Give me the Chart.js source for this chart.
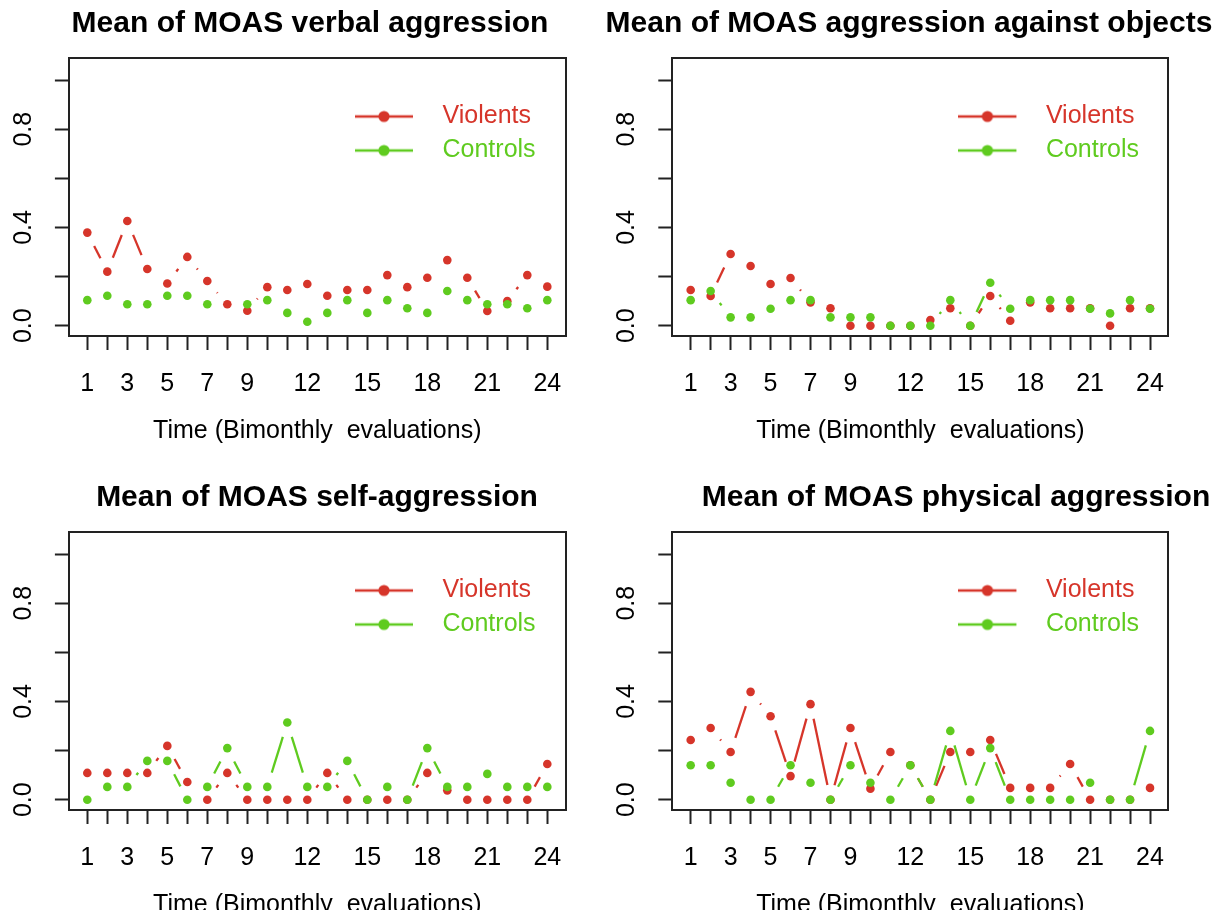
<!DOCTYPE html>
<html>
<head>
<meta charset="utf-8">
<script src="https://cdn.jsdelivr.net/npm/chart.js@4.4.0/dist/chart.umd.min.js"></script>
<style>
html,body{margin:0;padding:0;background:#fff;width:1231px;height:910px;overflow:hidden;position:relative;}
canvas{position:absolute;}
</style>
</head>
<body>
<canvas id="c0"></canvas>
<canvas id="c1"></canvas>
<canvas id="c2"></canvas>
<canvas id="c3"></canvas>
<script>
// ---------------- data ----------------
const timePoints = [1,2,3,4,5,6,7,8,9,10,11,12,13,14,15,16,17,18,19,20,21,22,23,24];
const xTickLabels = ['1','3','5','7','9','12','15','18','21','24'];
const yTickValues = [0, 0.2, 0.4, 0.6, 0.8, 1.0];
const yTickLabels = ['0.0', '', '0.4', '', '0.8', ''];
const seriesNames = ['Violents', 'Controls'];
const xAxisTitle = 'Time (Bimonthly  evaluations)';
const panelTitles = [
  'Mean of MOAS verbal aggression',
  'Mean of MOAS aggression against objects',
  'Mean of MOAS self-aggression',
  'Mean of MOAS physical aggression'
];

const verbalViolents = [0.379,0.220,0.426,0.231,0.172,0.280,0.182,0.087,0.061,0.157,0.145,0.170,0.122,0.145,0.145,0.206,0.157,0.195,0.267,0.195,0.060,0.100,0.206,0.159];
const verbalControls = [0.104,0.122,0.087,0.087,0.122,0.122,0.087,null,0.087,0.104,0.052,0.016,0.052,0.104,0.052,0.104,0.071,0.052,0.141,0.104,0.087,0.087,0.071,0.104];

const objectsViolents = [0.145,0.121,0.292,0.243,0.170,0.194,0.095,0.071,0.0,0.0,0.0,0.0,0.023,0.071,0.0,0.121,0.020,0.095,0.071,0.071,0.071,0.0,0.071,0.071];
const objectsControls = [0.104,0.141,0.034,0.034,0.069,0.104,0.104,0.034,0.034,0.034,0.0,0.0,0.0,0.104,0.0,0.175,0.069,0.104,0.104,0.104,0.069,0.050,0.104,0.069];

const selfViolents = [0.109,0.109,0.109,0.109,0.219,0.072,0.0,0.109,0.0,0.0,0.0,0.0,0.109,0.0,0.0,0.0,0.0,0.109,0.038,0.0,0.0,0.0,0.0,0.145];
const selfControls = [0.0,0.052,0.052,0.158,0.158,0.0,0.052,0.210,0.052,0.052,0.314,0.052,0.052,0.158,0.0,0.052,0.0,0.210,0.052,0.052,0.105,0.052,0.052,0.052];

const physicalViolents = [0.243,0.292,0.194,0.439,0.340,0.096,0.389,0.0,0.292,0.045,0.194,0.140,0.0,0.194,0.194,0.243,0.048,0.048,0.048,0.145,0.0,0.0,0.0,0.048];
const physicalControls = [0.140,0.140,0.069,0.0,0.0,0.140,0.069,0.0,0.140,0.069,0.0,0.140,0.0,0.280,0.0,0.210,0.0,0.0,0.0,0.0,0.069,0.0,0.0,0.280];

const panelSeries = [
  [verbalViolents, verbalControls],
  [objectsViolents, objectsControls],
  [selfViolents, selfControls],
  [physicalViolents, physicalControls]
];

// ---------------- style / layout ----------------
const RED = '#D6352A';
const GREEN = '#5FCB1F';
const seriesColors = [RED, GREEN];
const FONT = "'Liberation Sans', Arial, Helvetica, sans-serif";
const AXIS_COL = '#222';

// canvas placement + fixed margins so chart areas match the reference
const panels = [
  {left: 0,   top: 0,     w: 620, h: 455, yw: 68.9, rw: 54.3},
  {left: 603, top: 0,     w: 612, h: 455, yw: 69.3, rw: 46.6},
  {left: 0,   top: 473.9, w: 634, h: 455, yw: 68.9, rw: 68.3},
  {left: 610, top: 473.9, w: 692, h: 455, yw: 62.3, rw: 133.6}
];
const TITLE_H = 57.5, XAXIS_H = 119;

// legend glyph: solid line with a dot
function legendGlyph(color) {
  const c = document.createElement('canvas');
  c.width = 75; c.height = 14;
  const g = c.getContext('2d');
  g.strokeStyle = color; g.lineWidth = 2.6;
  g.beginPath(); g.moveTo(0, 7); g.lineTo(58, 7); g.stroke();
  g.fillStyle = color;
  g.beginPath(); g.arc(29, 7, 5.6, 0, Math.PI * 2); g.fill();
  return c;
}
const glyphs = seriesColors.map(legendGlyph);

// R type="b": line segments with gaps around points
const typeBLines = {
  id: 'typeBLines',
  beforeDatasetsDraw(chart) {
    const ctx = chart.ctx, xs = chart.scales.x, ys = chart.scales.y;
    const GAP = 15;
    ctx.save();
    ctx.lineWidth = 2.3;
    ctx.lineCap = 'butt';
    chart.data.datasets.forEach(ds => {
      ctx.strokeStyle = ds.borderColor;
      const pts = ds.data;
      for (let i = 0; i < pts.length - 1; i++) {
        const a = pts[i], b = pts[i + 1];
        if (a.y == null || b.y == null) continue;
        const x1 = xs.getPixelForValue(a.x), y1 = ys.getPixelForValue(a.y);
        const x2 = xs.getPixelForValue(b.x), y2 = ys.getPixelForValue(b.y);
        const d = Math.hypot(x2 - x1, y2 - y1);
        if (d <= 2 * GAP) continue;
        const ux = (x2 - x1) / d, uy = (y2 - y1) / d;
        ctx.beginPath();
        ctx.moveTo(x1 + ux * GAP, y1 + uy * GAP);
        ctx.lineTo(x2 - ux * GAP, y2 - uy * GAP);
        ctx.stroke();
      }
    });
    ctx.restore();
  }
};

// put the (library) legend inside the plot, top-right like R's legend()
const LEG_PAD = 9;
const legendPlacer = {
  id: 'legendPlacer',
  afterLayout(chart) {
    const lg = chart.legend, ca = chart.chartArea;
    if (!lg) return;
    lg.left = ca.left + 286.1 - LEG_PAD;
    lg.top = ca.top + 46.5 - LEG_PAD;
    lg.width = 300; lg.height = 120;
    lg.right = lg.left + lg.width;
    lg.bottom = lg.top + lg.height;
  }
};

function makeChart(idx) {
  const p = panels[idx];
  const cv = document.getElementById('c' + idx);
  cv.width = p.w; cv.height = p.h;
  cv.style.left = p.left + 'px'; cv.style.top = p.top + 'px';
  cv.style.width = p.w + 'px'; cv.style.height = p.h + 'px';

  const datasets = panelSeries[idx].map((vals, s) => ({
    label: seriesNames[s],
    data: timePoints.map((t, i) => ({x: t, y: vals[i]})),
    borderColor: seriesColors[s],
    backgroundColor: seriesColors[s],
    pointRadius: 4.3,
    pointBorderWidth: 0,
    pointHoverRadius: 4.3,
    showLine: false,
    order: s === 0 ? 2 : 1
  }));

  return new Chart(cv, {
    type: 'scatter',
    data: {datasets},
    plugins: [typeBLines, legendPlacer],
    options: {
      responsive: false,
      animation: false,
      devicePixelRatio: 1,
      layout: {padding: 0},
      plugins: {
        tooltip: {enabled: false},
        title: {
          display: true,
          text: panelTitles[idx],
          color: '#000',
          font: {family: FONT, size: 30, weight: 'bold', lineHeight: 1.2},
          padding: {top: 6, bottom: TITLE_H - 6 - 36}
        },
        legend: {
          display: true,
          position: 'chartArea',
          align: 'start',
          labels: {
            usePointStyle: true,
            pointStyleWidth: 75,
            boxHeight: 14,
            padding: LEG_PAD,
            font: {family: FONT, size: 25},
            generateLabels(chart) {
              return chart.data.datasets.map((ds, i) => ({
                text: ds.label,
                fontColor: ds.borderColor,
                fillStyle: ds.borderColor,
                strokeStyle: ds.borderColor,
                lineWidth: 0,
                pointStyle: glyphs[i],
                hidden: false,
                datasetIndex: i
              }));
            }
          }
        }
      },
      scales: {
        x: {
          type: 'linear',
          position: 'bottom',
          min: 0.08, max: 24.92,
          afterBuildTicks(s) { s.ticks = timePoints.map(v => ({value: v})); },
          afterFit(s) { s.height = XAXIS_H; },
          ticks: {
            autoSkip: false, maxRotation: 0, minRotation: 0,
            padding: 19,
            color: '#000',
            font: {family: FONT, size: 25},
            callback: v => xTickLabels.includes(String(v)) ? String(v) : ''
          },
          grid: {display: true, drawOnChartArea: false, drawTicks: true, tickLength: 14, tickWidth: 2, tickColor: AXIS_COL},
          border: {display: true, color: AXIS_COL, width: 2},
          title: {display: true, text: xAxisTitle, color: '#000', font: {family: FONT, size: 25, lineHeight: 1.2}, padding: {top: 0, bottom: 9}}
        },
        y: {
          type: 'linear',
          position: 'left',
          min: -0.042, max: 1.092,
          afterBuildTicks(s) { s.ticks = yTickValues.map(v => ({value: v})); },
          afterFit(s) { s.width = p.yw; },
          ticks: {
            autoSkip: false, minRotation: 90, maxRotation: 90,
            crossAlign: 'center',
            padding: 13.5,
            color: '#000',
            font: {family: FONT, size: 25},
            callback: (v, i) => yTickLabels[i]
          },
          grid: {display: true, drawOnChartArea: false, drawTicks: true, tickLength: 14, tickWidth: 2, tickColor: AXIS_COL},
          border: {display: true, color: AXIS_COL, width: 2}
        },
        x2: {
          type: 'linear', position: 'top', min: 0.08, max: 24.92,
          afterFit(s) { s.height = 0; },
          ticks: {display: false},
          grid: {display: false, drawTicks: false},
          border: {display: true, color: AXIS_COL, width: 2}
        },
        y2: {
          type: 'linear', position: 'right', min: -0.042, max: 1.092,
          afterFit(s) { s.width = p.rw; },
          ticks: {display: false},
          grid: {display: false, drawTicks: false},
          border: {display: true, color: AXIS_COL, width: 2}
        }
      }
    }
  });
}

[0, 1, 2, 3].forEach(makeChart);
</script>
</body>
</html>
